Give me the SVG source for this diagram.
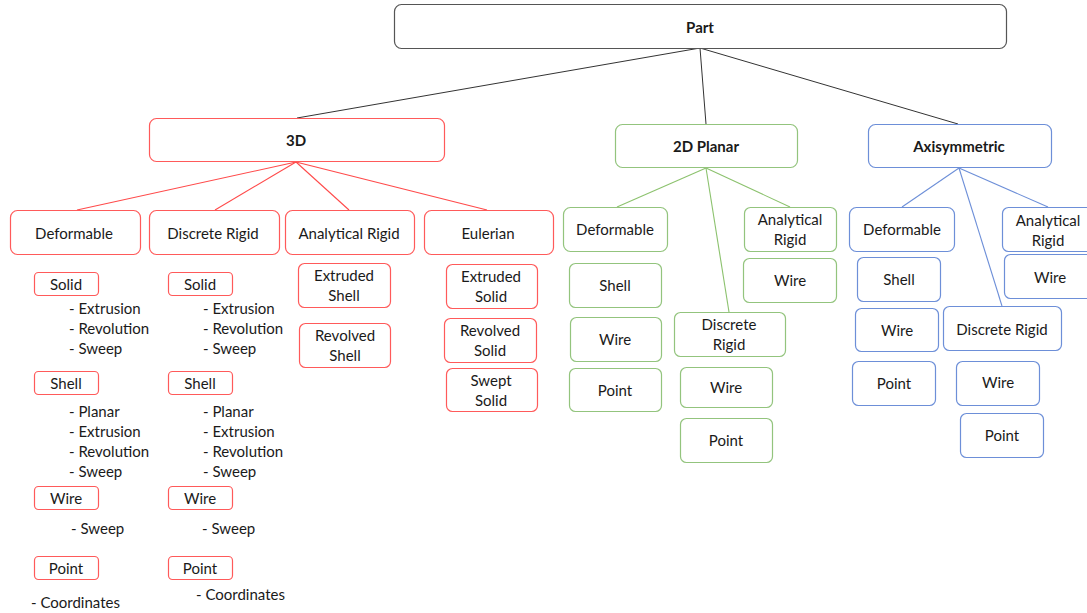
<svg xmlns="http://www.w3.org/2000/svg" width="1087" height="613" viewBox="0 0 1087 613">
  <style>
    text { font-family: Lato, "Liberation Sans", sans-serif; font-size: 15px; fill: #1a1a1a; }
    .c { text-anchor: middle; dominant-baseline: central; }
    .b { font-weight: bold; font-size: 15px; }
    rect { fill: #ffffff; stroke-width: 1.2; }
    .k { stroke: #555555; }
    .r { stroke: #ff5a5a; }
    .g { stroke: #93c47d; }
    .u { stroke: #6d8fd8; }
    .lk { stroke: #333333; stroke-width: 1; }
    .lr { stroke: #ff4a4a; stroke-width: 1.1; }
    .lg { stroke: #8cc26e; stroke-width: 1.1; }
    .lu { stroke: #6d8fd8; stroke-width: 1.1; }
  </style>

  <g id="connectors" fill="none">
    <line class="lk" x1="700" y1="48" x2="297" y2="118"/>
    <line class="lk" x1="700" y1="48" x2="706" y2="124"/>
    <line class="lk" x1="700" y1="48" x2="958" y2="124"/>
    <line class="lr" x1="296" y1="162" x2="77" y2="210"/>
    <line class="lr" x1="296" y1="162" x2="215" y2="210"/>
    <line class="lr" x1="296" y1="162" x2="349" y2="210"/>
    <line class="lr" x1="296" y1="162" x2="487" y2="210"/>
    <line class="lg" x1="706" y1="168" x2="617" y2="207"/>
    <line class="lg" x1="706" y1="168" x2="729" y2="312"/>
    <line class="lg" x1="706" y1="168" x2="790" y2="207"/>
    <line class="lu" x1="959" y1="168" x2="902" y2="207"/>
    <line class="lu" x1="959" y1="168" x2="1002" y2="306"/>
    <line class="lu" x1="959" y1="168" x2="1048" y2="207"/>
  </g>

  <g id="part"><rect class="k" x="394.5" y="4.5" width="612" height="44" rx="7"/><text class="c b" x="700" y="27">Part</text></g>

  <!-- 3D branch -->
  <g id="n3d"><rect class="r" x="149.5" y="118.5" width="295" height="43" rx="7"/><text class="c b" x="296" y="140">3D</text></g>
  <g id="d3-deformable"><rect class="r" x="10.5" y="210.5" width="130" height="44" rx="7"/><text class="c" x="74" y="233">Deformable</text></g>
  <g id="d3-discrete"><rect class="r" x="149.5" y="210.5" width="130" height="44" rx="7"/><text class="c" x="213" y="233">Discrete Rigid</text></g>
  <g id="d3-analytical"><rect class="r" x="285.5" y="210.5" width="129" height="44" rx="7"/><text class="c" x="349" y="233">Analytical Rigid</text></g>
  <g id="d3-eulerian"><rect class="r" x="424.5" y="210.5" width="129" height="44" rx="7"/><text class="c" x="488" y="233">Eulerian</text></g>

  <g id="d3-def-solid"><rect class="r" x="34.5" y="272.5" width="64" height="23" rx="4"/><text class="c" x="66" y="284">Solid</text></g>
  <g id="d3-def-solid-list">
    <text x="69" y="314">- Extrusion</text>
    <text x="69" y="334">- Revolution</text>
    <text x="69" y="354">- Sweep</text>
  </g>
  <g id="d3-def-shell"><rect class="r" x="34.5" y="371.5" width="64" height="23" rx="4"/><text class="c" x="66" y="383">Shell</text></g>
  <g id="d3-def-shell-list">
    <text x="69" y="417">- Planar</text>
    <text x="69" y="437">- Extrusion</text>
    <text x="69" y="457">- Revolution</text>
    <text x="69" y="477">- Sweep</text>
  </g>
  <g id="d3-def-wire"><rect class="r" x="34.5" y="486.5" width="64" height="23" rx="4"/><text class="c" x="66" y="498">Wire</text></g>
  <g id="d3-def-wire-list"><text x="71" y="534">- Sweep</text></g>
  <g id="d3-def-point"><rect class="r" x="34.5" y="556.5" width="64" height="23" rx="4"/><text class="c" x="66" y="568">Point</text></g>
  <g id="d3-def-point-list"><text x="31" y="608">- Coordinates</text></g>

  <g id="d3-dr-solid"><rect class="r" x="168.5" y="272.5" width="64" height="23" rx="4"/><text class="c" x="200" y="284">Solid</text></g>
  <g id="d3-dr-solid-list">
    <text x="203" y="314">- Extrusion</text>
    <text x="203" y="334">- Revolution</text>
    <text x="203" y="354">- Sweep</text>
  </g>
  <g id="d3-dr-shell"><rect class="r" x="168.5" y="371.5" width="64" height="23" rx="4"/><text class="c" x="200" y="383">Shell</text></g>
  <g id="d3-dr-shell-list">
    <text x="203" y="417">- Planar</text>
    <text x="203" y="437">- Extrusion</text>
    <text x="203" y="457">- Revolution</text>
    <text x="203" y="477">- Sweep</text>
  </g>
  <g id="d3-dr-wire"><rect class="r" x="168.5" y="486.5" width="64" height="23" rx="4"/><text class="c" x="200" y="498">Wire</text></g>
  <g id="d3-dr-wire-list"><text x="202" y="534">- Sweep</text></g>
  <g id="d3-dr-point"><rect class="r" x="168.5" y="556.5" width="64" height="23" rx="4"/><text class="c" x="200" y="568">Point</text></g>
  <g id="d3-dr-point-list"><text x="196" y="600">- Coordinates</text></g>

  <g id="d3-ar-extruded"><rect class="r" x="298.5" y="263.5" width="92" height="44" rx="6"/><text class="c" x="344" y="275">Extruded</text><text class="c" x="344" y="295">Shell</text></g>
  <g id="d3-ar-revolved"><rect class="r" x="299.5" y="323.5" width="91" height="44" rx="6"/><text class="c" x="345" y="335">Revolved</text><text class="c" x="345" y="355">Shell</text></g>

  <g id="d3-eu-extruded"><rect class="r" x="446.5" y="264.5" width="91" height="44" rx="6"/><text class="c" x="491" y="276">Extruded</text><text class="c" x="491" y="296">Solid</text></g>
  <g id="d3-eu-revolved"><rect class="r" x="444.5" y="318.5" width="92" height="44" rx="6"/><text class="c" x="490" y="330">Revolved</text><text class="c" x="490" y="350">Solid</text></g>
  <g id="d3-eu-swept"><rect class="r" x="446.5" y="368.5" width="91" height="43" rx="6"/><text class="c" x="491" y="380">Swept</text><text class="c" x="491" y="400">Solid</text></g>

  <!-- 2D Planar branch -->
  <g id="n2d"><rect class="g" x="615.5" y="124.5" width="182" height="43" rx="7"/><text class="c b" x="706" y="146">2D Planar</text></g>
  <g id="p-deformable"><rect class="g" x="563.5" y="207.5" width="104" height="44" rx="7"/><text class="c" x="615" y="229">Deformable</text></g>
  <g id="p-shell"><rect class="g" x="569.5" y="263.5" width="92" height="44" rx="6"/><text class="c" x="615" y="285">Shell</text></g>
  <g id="p-wire"><rect class="g" x="570.5" y="317.5" width="91" height="44" rx="6"/><text class="c" x="615" y="339">Wire</text></g>
  <g id="p-point"><rect class="g" x="569.5" y="368.5" width="92" height="43" rx="6"/><text class="c" x="615" y="390">Point</text></g>
  <g id="p-discrete"><rect class="g" x="674.5" y="312.5" width="111" height="44" rx="6"/><text class="c" x="729" y="324">Discrete</text><text class="c" x="729" y="344">Rigid</text></g>
  <g id="p-dr-wire"><rect class="g" x="680.5" y="367.5" width="92" height="40" rx="6"/><text class="c" x="726" y="387">Wire</text></g>
  <g id="p-dr-point"><rect class="g" x="680.5" y="418.5" width="92" height="44" rx="6"/><text class="c" x="726" y="440">Point</text></g>
  <g id="p-analytical"><rect class="g" x="744.5" y="207.5" width="92" height="44" rx="6"/><text class="c" x="790" y="219">Analytical</text><text class="c" x="790" y="239">Rigid</text></g>
  <g id="p-ar-wire"><rect class="g" x="743.5" y="258.5" width="93" height="44" rx="6"/><text class="c" x="790" y="280">Wire</text></g>

  <!-- Axisymmetric branch -->
  <g id="nax"><rect class="u" x="868.5" y="124.5" width="183" height="43" rx="7"/><text class="c b" x="959" y="146">Axisymmetric</text></g>
  <g id="a-deformable"><rect class="u" x="849.5" y="207.5" width="105" height="44" rx="7"/><text class="c" x="902" y="229">Deformable</text></g>
  <g id="a-shell"><rect class="u" x="857.5" y="257.5" width="83" height="44" rx="6"/><text class="c" x="899" y="279">Shell</text></g>
  <g id="a-wire"><rect class="u" x="855.5" y="308.5" width="83" height="43" rx="6"/><text class="c" x="897" y="330">Wire</text></g>
  <g id="a-point"><rect class="u" x="852.5" y="361.5" width="83" height="44" rx="6"/><text class="c" x="894" y="383">Point</text></g>
  <g id="a-discrete"><rect class="u" x="943.5" y="306.5" width="118" height="44" rx="6"/><text class="c" x="1002" y="329">Discrete Rigid</text></g>
  <g id="a-dr-wire"><rect class="u" x="956.5" y="361.5" width="83" height="44" rx="6"/><text class="c" x="998" y="382">Wire</text></g>
  <g id="a-dr-point"><rect class="u" x="960.5" y="413.5" width="83" height="44" rx="6"/><text class="c" x="1002" y="435">Point</text></g>
  <g id="a-analytical"><rect class="u" x="1002.5" y="207.5" width="95" height="44" rx="6"/><text class="c" x="1048" y="220">Analytical</text><text class="c" x="1048" y="240">Rigid</text></g>
  <g id="a-ar-wire"><rect class="u" x="1004.5" y="254.5" width="93" height="44" rx="6"/><text class="c" x="1050" y="277">Wire</text></g>
</svg>
